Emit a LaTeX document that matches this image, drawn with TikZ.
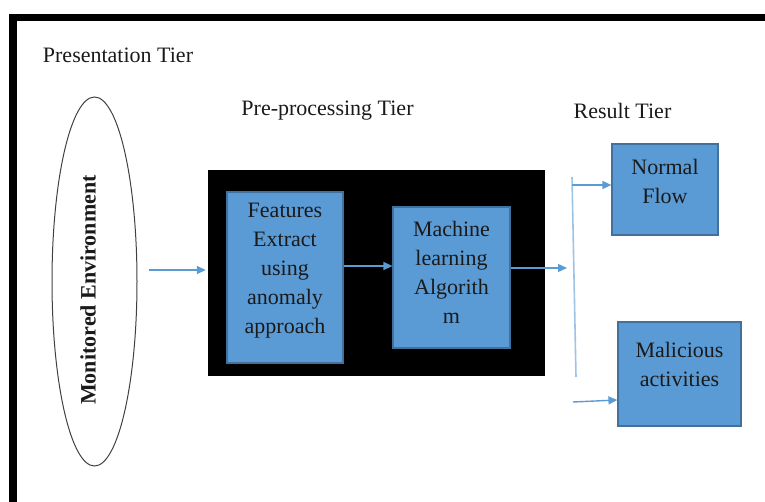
\documentclass[tikz,border=0pt]{standalone}
\usepackage{fontspec}
\setmainfont{Liberation Serif}
\usetikzlibrary{arrows.meta,shapes.geometric}
\definecolor{boxblue}{HTML}{5B9BD5}
\definecolor{boxedge}{HTML}{41719C}
\definecolor{arrblue}{HTML}{5B9BD5}
\definecolor{busblue}{HTML}{9DC3E6}
\definecolor{txt}{HTML}{1A1A1A}
\tikzset{
  tierlabel/.style={font=\fontsize{22}{26}\selectfont, text=txt, inner sep=0pt},
  bluebox/.style={draw=boxedge, fill=boxblue, line width=1.2pt},
  boxtext/.style={font=\fontsize{22}{29}\selectfont, text=txt, align=center, inner sep=0pt},
  arr/.style={draw=arrblue, line width=1.4pt, -{Triangle[length=9pt,width=8pt]}},
}
\begin{document}
\begin{tikzpicture}[x=1pt,y=-1pt]
\useasboundingbox (0,0) rectangle (765,502);
% frame
\fill[black] (9,14) rectangle (765,21);
\fill[black] (9,14) rectangle (17,502);
% tier labels
\node[tierlabel] (pt) at (118,55) {Presentation Tier};
\node[tierlabel] (ppt) at (327.5,111) {Pre-processing Tier};
\node[tierlabel] (rt) at (622.5,111) {Result Tier};
% monitored environment
\node[draw=black!75, line width=1pt, ellipse, minimum width=85, minimum height=369, inner sep=0pt] (env) at (94.5,281.5) {};
\node[rotate=90, font=\bfseries\fontsize{22}{26}\selectfont, text=txt, inner sep=0pt] (envt) at (88,290) {Monitored Environment};
% black pre-processing area
\node[fill=black, minimum width=337, minimum height=206, inner sep=0pt] (bk) at (376.5,273) {};
% features box
\node[bluebox, minimum width=116, minimum height=171, inner sep=0pt] (fe) at (285,277.5) {};
\node[boxtext] (fet) at (285,271) {Features\\Extract\\using\\anomaly\\approach};
% machine learning box
\node[bluebox, minimum width=117, minimum height=141, inner sep=0pt] (ml) at (451.5,277.5) {};
\node[boxtext] (mlt) at (451.5,272.5) {Machine\\learning\\Algorith\\m};
% result boxes
\node[bluebox, minimum width=106, minimum height=91, inner sep=0pt] (nf) at (665,189.5) {};
\node[boxtext] (nft) at (665,181.5) {Normal\\Flow};
\node[bluebox, minimum width=123, minimum height=104, inner sep=0pt] (mal) at (679.5,374) {};
\node[boxtext] (malt) at (679.5,364.5) {Malicious\\activities};
% bus
\coordinate (bt) at (572,177);
\coordinate (bb) at (576,377);
\coordinate (b1) at (572,185);
\coordinate (b2) at (573,402);
\draw[busblue, line width=1.6pt] (bt) -- (bb);
% arrows
\draw[arr] ([xshift=11]env.east |- 0,270) -- ([xshift=-2]bk.west |- 0,270);
\draw[arr] ([yshift=11.5]fe.east) -- ([yshift=11.5]fe.east -| ml.west);
\draw[arr] ([yshift=9.5]ml.east) -- ([xshift=-5,yshift=9.5]ml.east -| bt);
\draw[arr] (b1) -- (b1 -| nf.west);
\draw[arr] (b2) -- ([yshift=2]b2 -| mal.west);
\end{tikzpicture}
\end{document}
